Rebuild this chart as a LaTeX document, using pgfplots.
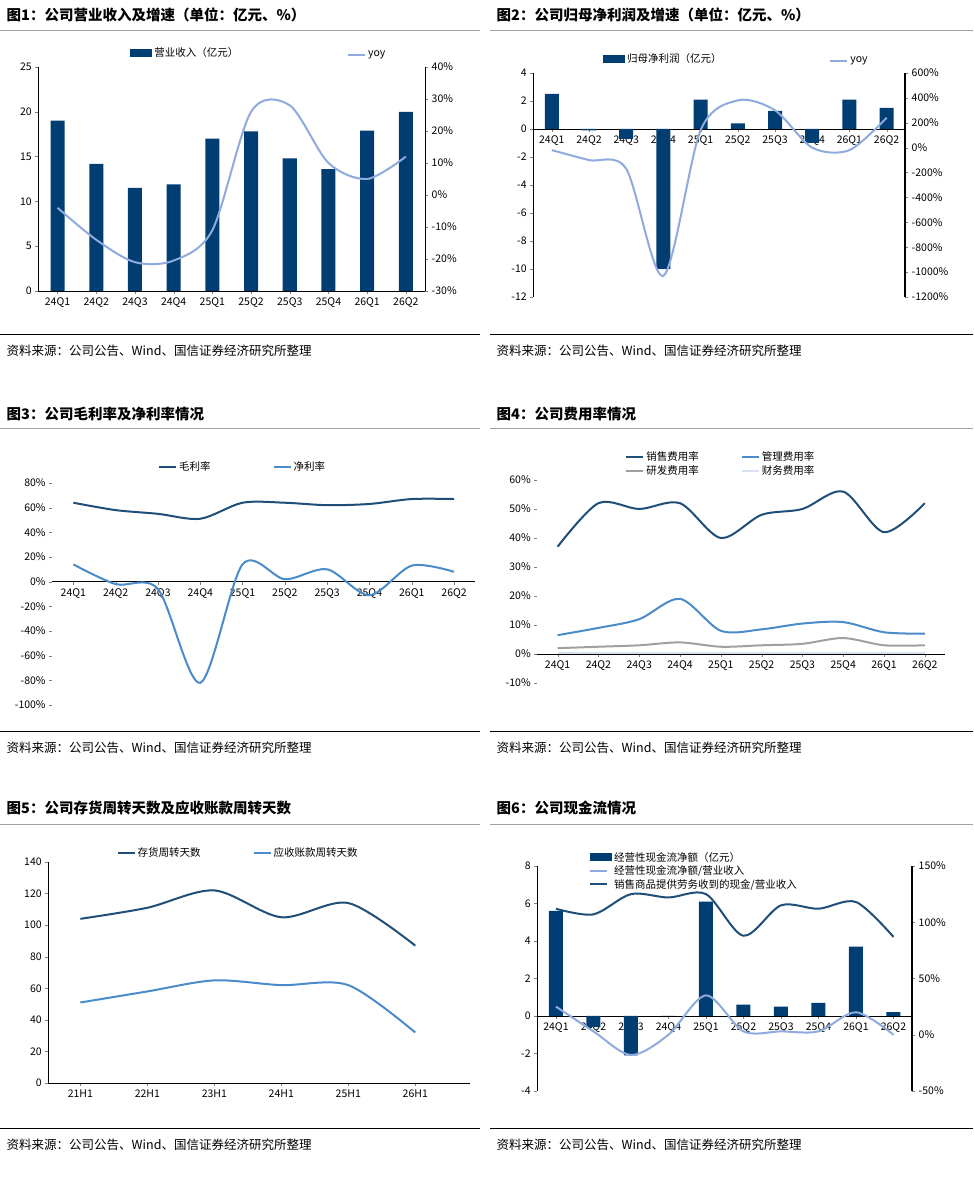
\documentclass[border=0pt]{standalone}
\usepackage{pgfplots}
\pgfplotsset{compat=1.18}
\usepackage{fontspec}
\setmainfont{Noto Sans CJK SC}
\definecolor{navy}{RGB}{0,61,115}
\definecolor{lblue}{RGB}{143,170,220}
\definecolor{dblue}{RGB}{31,78,121}
\definecolor{mblue}{RGB}{74,139,201}
\definecolor{gry}{RGB}{160,160,160}
\definecolor{vlb}{RGB}{215,225,240}
\pgfplotsset{base/.style={scale only axis, /pgf/number format/assume math mode=true,
 tick label style={font=\fontsize{10.5}{12}\selectfont}, xmin=-0.5,xmax=9.5,
 xtick={0,...,9}, xticklabels={24Q1,24Q2,24Q3,24Q4,25Q1,25Q2,25Q3,25Q4,26Q1,26Q2},
 tick align=outside, major tick length=3pt, axis line style={black},
 legend style={draw=none,font=\fontsize{10.5}{11}\selectfont,fill=none},
 legend cell align=left},
 pct/.style={yticklabel={\pgfmathprintnumber{\tick}\%}},
 barleg/.style={legend image code/.code={\fill[navy] (0pt,-4pt) rectangle (22pt,4pt);}}}
\begin{document}
\begin{tikzpicture}
\begin{scope}[x=1pt,y=1pt]
\path[fill=white] (0,0) rectangle (973,1180);
\tikzset{ttl/.style={anchor=west,font=\fontsize{14.5}{16}\selectfont\bfseries},src/.style={anchor=west,font=\fontsize{12.5}{14}\selectfont}}
\node[ttl] at (3,1165) {图1：公司营业收入及增速（单位：亿元、\%）};
\node[ttl] at (493,1165) {图2：公司归母净利润及增速（单位：亿元、\%）};
\node[ttl] at (3,766) {图3：公司毛利率及净利率情况};
\node[ttl] at (493,766) {图4：公司费用率情况};
\node[ttl] at (3,372) {图5：公司存货周转天数及应收账款周转天数};
\node[ttl] at (493,372) {图6：公司现金流情况};
\foreach \y in {1150,752,356}{\draw[gry,thin] (0,\y)--(480,\y); \draw[gry,thin] (490,\y)--(973,\y);}
\foreach \y in {846,449,52}{\draw[black] (0,\y)--(480,\y); \draw[black] (490,\y)--(973,\y);
 \node[src] at (3,\y-17) {资料来源：公司公告、Wind、国信证券经济研究所整理};
 \node[src] at (493,\y-17) {资料来源：公司公告、Wind、国信证券经济研究所整理};}
\end{scope}
% Panel 1
\begin{axis}[base, at={(38pt,889pt)}, anchor=south west, width=387pt, height=224pt,
 ymin=0,ymax=25, ytick={0,5,...,25}, axis y line*=left, axis x line*=bottom,
 legend style={at={(0.38,1.02)},anchor=south}]
\addplot[ybar, bar width=14pt, fill=navy, draw=none, barleg] coordinates {(0,19)(1,14.2)(2,11.5)(3,11.9)(4,17)(5,17.8)(6,14.8)(7,13.6)(8,17.9)(9,20)};
\addlegendentry{营业收入（亿元）}
\end{axis}
\begin{axis}[base, at={(38pt,889pt)}, anchor=south west, width=387pt, height=224pt,
 ymin=-30,ymax=40, ytick={-30,-20,...,40}, pct, axis y line*=right, axis x line=none,
 legend style={at={(0.85,1.02)},anchor=south}]
\addplot[lblue, line width=2pt, smooth] coordinates {(0,-4)(1,-14)(2,-21)(3,-20.5)(4,-11)(5,26)(6,28)(7,10)(8,5)(9,12)};
\addlegendentry{yoy}
\end{axis}
% Panel 2
\begin{axis}[base, at={(533pt,883pt)}, anchor=south west, width=372pt, height=224pt,
 ymin=-12,ymax=4, ytick={-12,-10,...,4}, axis y line*=left, axis x line*=middle,
 xticklabel style={anchor=north},
 legend style={at={(0.35,1.02)},anchor=south}]
\addplot[ybar, bar width=14pt, fill=navy, draw=none, barleg] coordinates {(0,2.5)(1,-0.1)(2,-0.7)(3,-10)(4,2.1)(5,0.4)(6,1.3)(7,-1.0)(8,2.1)(9,1.5)};
\addlegendentry{归母净利润（亿元）}
\end{axis}
\begin{axis}[base, at={(533pt,883pt)}, anchor=south west, width=372pt, height=224pt,
 ymin=-1200,ymax=600, ytick={-1200,-1000,...,600}, pct, axis y line*=right, axis x line=none,
 y axis line style={line width=1.5pt}, yticklabel style={/pgf/number format/1000 sep={}},
 legend style={at={(0.85,1.02)},anchor=south}]
\addplot[lblue, line width=2pt, smooth] coordinates {(0,-20)(1,-100)(2,-170)(3,-1030)(4,140)(5,380)(6,300)(7,0)(8,-20)(9,240)};
\addlegendentry{yoy}
\end{axis}
% Panel 3
\begin{axis}[base, at={(52pt,475pt)}, anchor=south west, width=423pt, height=222pt,
 ymin=-100,ymax=80, ytick={-100,-80,...,80}, pct, axis y line*=left, axis x line*=middle,
 y axis line style={draw=none}, xticklabel style={anchor=north},
 legend columns=2, legend style={at={(0.45,1.03)},anchor=south,/tikz/every even column/.append style={column sep=60pt}}]
\addplot[dblue, line width=2pt, smooth] coordinates {(0,64)(1,58)(2,55)(3,51)(4,64)(5,64)(6,62)(7,63)(8,67)(9,67)};
\addlegendentry{毛利率}
\addplot[mblue, line width=2pt, smooth] coordinates {(0,14)(1,-2)(2,-6)(3,-82)(4,14)(5,2)(6,10)(7,-11)(8,13)(9,8)};
\addlegendentry{净利率}
\end{axis}
% Panel 4
\begin{axis}[base, at={(537pt,497pt)}, anchor=south west, width=408pt, height=203pt,
 ymin=-10,ymax=60, ytick={-10,0,...,60}, pct, axis y line*=left, axis x line*=middle,
 y axis line style={draw=none}, xticklabel style={anchor=north},
 legend columns=2, legend style={at={(0.45,1.0)},anchor=south,/tikz/every even column/.append style={column sep=40pt}, row sep=-1pt}]
\addplot[dblue, line width=2pt, smooth] coordinates {(0,37)(1,52)(2,50)(3,52)(4,40)(5,48)(6,50)(7,56)(8,42)(9,52)};
\addlegendentry{销售费用率}
\addplot[mblue, line width=2pt, smooth] coordinates {(0,6.5)(1,9)(2,12)(3,19)(4,8)(5,8.5)(6,10.5)(7,11)(8,7.5)(9,7)};
\addlegendentry{管理费用率}
\addplot[gry, line width=2pt, smooth] coordinates {(0,2)(1,2.5)(2,3)(3,4)(4,2.5)(5,3)(6,3.5)(7,5.5)(8,3)(9,3)};
\addlegendentry{研发费用率}
\addplot[vlb, line width=2pt, smooth] coordinates {(0,0.3)(1,0.3)(2,0.3)(3,0.3)(4,0.3)(5,0.3)(6,0.3)(7,0.3)(8,0.3)(9,0.3)};
\addlegendentry{财务费用率}
\end{axis}
% Panel 5
\begin{axis}[base, at={(48pt,97pt)}, anchor=south west, width=422pt, height=221pt,
 xmin=-0.48,xmax=5.82, xtick={0,...,5}, xticklabels={21H1,22H1,23H1,24H1,25H1,26H1},
 ymin=0,ymax=140, ytick={0,20,...,140}, axis y line*=left, axis x line*=bottom,
 legend columns=2, legend style={at={(0.45,1.0)},anchor=south,/tikz/every even column/.append style={column sep=50pt}}]
\addplot[dblue, line width=2pt, smooth] coordinates {(0,104)(1,111)(2,122)(3,105)(4,114)(5,87)};
\addlegendentry{存货周转天数}
\addplot[mblue, line width=2pt, smooth] coordinates {(0,51)(1,58)(2,65)(3,62)(4,62)(5,32)};
\addlegendentry{应收账款周转天数}
\end{axis}
% Panel 6
\begin{axis}[base, at={(537pt,89pt)}, anchor=south west, width=375pt, height=225pt,
 ymin=-4,ymax=8, ytick={-4,-2,...,8}, axis y line*=left, axis x line*=middle, xticklabel style={anchor=north},
 legend style={at={(0.13,1.08)},anchor=north west, row sep=-1pt}]
\addplot[ybar, bar width=14pt, fill=navy, draw=none, barleg] coordinates {(0,5.6)(1,-0.6)(2,-2.1)(3,0)(4,6.1)(5,0.6)(6,0.5)(7,0.7)(8,3.7)(9,0.2)};
\addlegendentry{经营性现金流净额（亿元）}
\addlegendimage{lblue, line width=2pt}\addlegendentry{经营性现金流净额/营业收入}
\addlegendimage{dblue, line width=2pt}\addlegendentry{销售商品提供劳务收到的现金/营业收入}
\end{axis}
\begin{axis}[base, at={(537pt,89pt)}, anchor=south west, width=375pt, height=225pt,
 ymin=-50,ymax=150, ytick={-50,0,50,100,150}, pct, axis y line*=right, axis x line=none,
 y axis line style={line width=1.5pt}]
\addplot[lblue, line width=2pt, smooth] coordinates {(0,25)(1,3)(2,-18)(3,0)(4,35)(5,3)(6,3)(7,3)(8,20)(9,0)};
\addplot[dblue, line width=2pt, smooth] coordinates {(0,112)(1,107)(2,125)(3,122)(4,125)(5,88)(6,115)(7,112)(8,118)(9,87)};
\end{axis}
\end{tikzpicture}
\end{document}
